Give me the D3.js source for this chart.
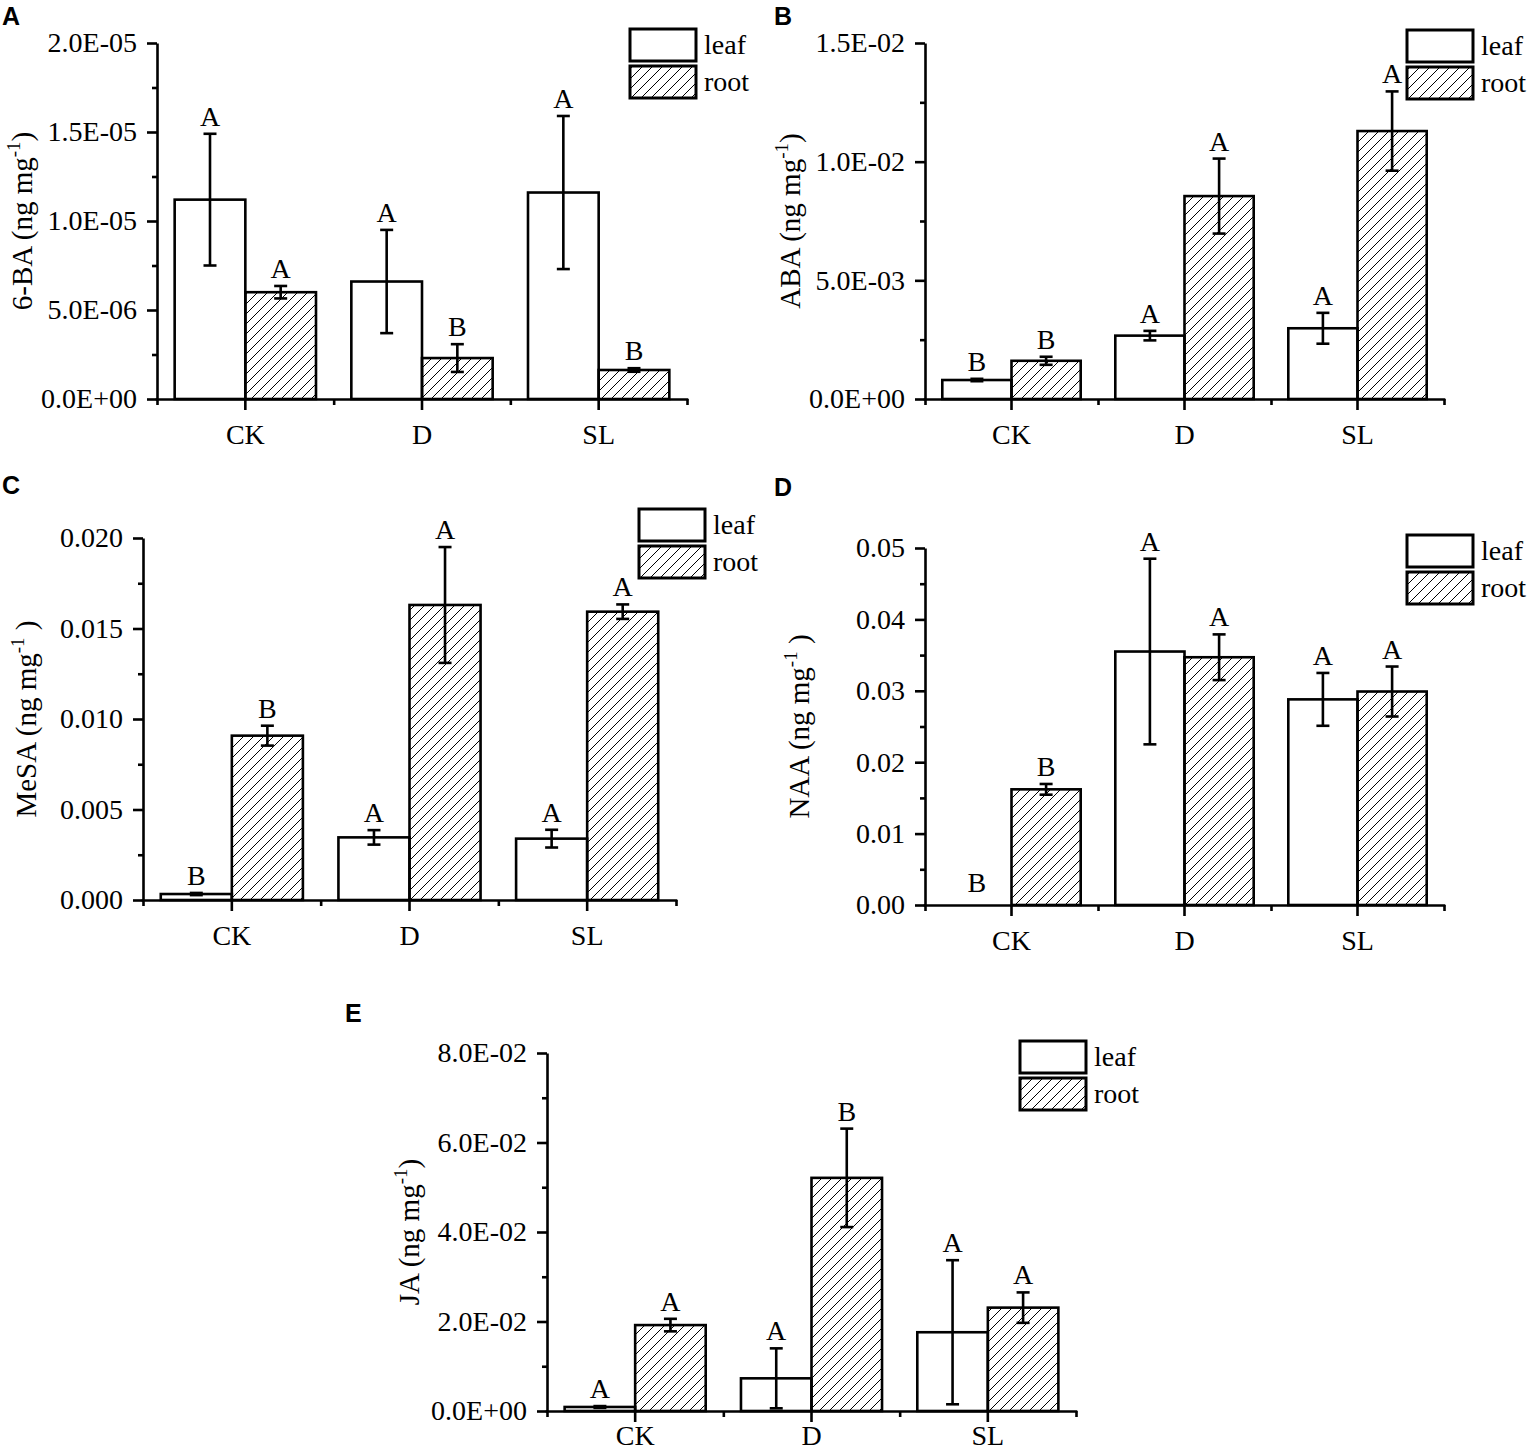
<!DOCTYPE html>
<html>
<head>
<meta charset="utf-8">
<script src="https://cdn.jsdelivr.net/npm/d3@7"></script>
<style>
  body { margin: 0; background: #fff; }
  svg { display: block; }
  text { font-family: "Liberation Serif", "Times New Roman", serif; fill: #000; }
  .panel-tag { font-family: "Liberation Sans", Arial, sans-serif; font-weight: bold; }
</style>
</head>
<body>
<div id="chart"></div>
<script>
// categories and series
const groups = ["CK", "D", "SL"];
const series = ["leaf", "root"];

// 6-BA
const baLeaf = [1.12e-5, 0.66e-5, 1.16e-5];
const baLeafSd = [0.37e-5, 0.29e-5, 0.43e-5];
const baRoot = [0.60e-5, 0.23e-5, 0.163e-5];
const baRootSd = [0.035e-5, 0.078e-5, 0.01e-5];
const baLeafSig = ["A", "A", "A"];
const baRootSig = ["A", "B", "B"];

// ABA
const abaLeaf = [0.0008, 0.00267, 0.00298];
const abaLeafSd = [0.00005, 0.0002, 0.00065];
const abaRoot = [0.00161, 0.00855, 0.01129];
const abaRootSd = [0.00017, 0.00158, 0.00167];
const abaLeafSig = ["B", "A", "A"];
const abaRootSig = ["B", "A", "A"];

// MeSA
const mesaLeaf = [0.00033, 0.00346, 0.00339];
const mesaLeafSd = [0.00006, 0.0004, 0.00049];
const mesaRoot = [0.00908, 0.0163, 0.01593];
const mesaRootSd = [0.00055, 0.0032, 0.0004];
const mesaLeafSig = ["B", "A", "A"];
const mesaRootSig = ["B", "A", "A"];

// NAA
const naaLeaf = [0, 0.0355, 0.0288];
const naaLeafSd = [0, 0.013, 0.0037];
const naaRoot = [0.0162, 0.0347, 0.0299];
const naaRootSd = [0.00075, 0.0032, 0.0035];
const naaLeafSig = ["B", "A", "A"];
const naaRootSig = ["B", "A", "A"];

// JA
const jaLeaf = [0.0009, 0.0073, 0.0176];
const jaLeafSd = [0.0002, 0.0067, 0.0161];
const jaRoot = [0.0192, 0.0521, 0.0231];
const jaRootSd = [0.0014, 0.011, 0.0034];
const jaLeafSig = ["A", "A", "A"];
const jaRootSig = ["A", "B", "A"];

// y tick values
const baTicks = [0, 5e-6, 1e-5, 1.5e-5, 2e-5];
const abaTicks = [0, 0.005, 0.01, 0.015];
const mesaTicks = [0, 0.005, 0.01, 0.015, 0.02];
const naaTicks = [0, 0.01, 0.02, 0.03, 0.04, 0.05];
const jaTicks = [0, 0.02, 0.04, 0.06, 0.08];

// "2.0E-05" style labels
function sciFormat(v) {
  if (v === 0) return "0.0E+00";
  let e = Math.floor(Math.log10(Math.abs(v)) + 1e-9);
  let m = v / Math.pow(10, e);
  let sign = e < 0 ? "-" : "+";
  return m.toFixed(1) + "E" + sign + String(Math.abs(e)).padStart(2, "0");
}

const W = 1527, H = 1452;
const svg = d3.select("#chart").append("svg")
  .attr("width", W)
  .attr("height", H);

const defs = svg.append("defs");
const hatch = defs.append("pattern")
  .attr("id", "hatch")
  .attr("patternUnits", "userSpaceOnUse")
  .attr("width", 10)
  .attr("height", 10);
hatch.append("path")
  .attr("d", "M-2.5,2.5 L2.5,-2.5 M0,10 L10,0 M7.5,12.5 L12.5,7.5")
  .attr("stroke", "#000")
  .attr("stroke-width", 1);

const fillFor = { leaf: "#fff", root: "url(#hatch)" };

const panels = [
  { tag: "A", tagX: 2, tagY: 25, name: "6-BA", sp: "",
    leaf: baLeaf, leafSd: baLeafSd, root: baRoot, rootSd: baRootSd, leafSig: baLeafSig, rootSig: baRootSig,
    ticks: baTicks, fmt: sciFormat, x0: 157, x1: 687, yTop: 43, yZero: 399, labelX: 22, legX: 630, legY: 29 },
  { tag: "B", tagX: 774, tagY: 25, name: "ABA", sp: "",
    leaf: abaLeaf, leafSd: abaLeafSd, root: abaRoot, rootSd: abaRootSd, leafSig: abaLeafSig, rootSig: abaRootSig,
    ticks: abaTicks, fmt: sciFormat, x0: 925, x1: 1444, yTop: 43, yZero: 399, labelX: 790, legX: 1407, legY: 30 },
  { tag: "C", tagX: 2, tagY: 494, name: "MeSA", sp: " ",
    leaf: mesaLeaf, leafSd: mesaLeafSd, root: mesaRoot, rootSd: mesaRootSd, leafSig: mesaLeafSig, rootSig: mesaRootSig,
    ticks: mesaTicks, fmt: d3.format(".3f"), x0: 143, x1: 676, yTop: 538, yZero: 900, labelX: 26, legX: 639, legY: 509 },
  { tag: "D", tagX: 774, tagY: 496, name: "NAA", sp: " ",
    leaf: naaLeaf, leafSd: naaLeafSd, root: naaRoot, rootSd: naaRootSd, leafSig: naaLeafSig, rootSig: naaRootSig,
    ticks: naaTicks, fmt: d3.format(".2f"), x0: 925, x1: 1444, yTop: 548, yZero: 905, labelX: 799, legX: 1407, legY: 535 },
  { tag: "E", tagX: 345, tagY: 1022, name: "JA", sp: "",
    leaf: jaLeaf, leafSd: jaLeafSd, root: jaRoot, rootSd: jaRootSd, leafSig: jaLeafSig, rootSig: jaRootSig,
    ticks: jaTicks, fmt: sciFormat, x0: 547, x1: 1076, yTop: 1053, yZero: 1411, labelX: 409, legX: 1020, legY: 1041 }
];

panels.forEach(drawPanel);

function drawPanel(p) {
  const g = svg.append("g");
  const yMax = p.ticks[p.ticks.length - 1];
  const step = p.ticks[1] - p.ticks[0];

  const x = d3.scaleBand().domain(groups).range([p.x0, p.x1]).paddingInner(0).paddingOuter(0);
  const bw = x.bandwidth();
  const xs = d3.scaleBand().domain(series).range([bw * 0.1, bw * 0.9]);
  const y = d3.scaleLinear().domain([0, yMax]).range([p.yZero, p.yTop]);

  // panel tag
  svg.append("text")
    .attr("class", "panel-tag")
    .attr("x", p.tagX)
    .attr("y", p.tagY)
    .style("font-size", "25px")
    .text(p.tag);

  // rows of data
  const rows = [];
  groups.forEach(function (grp, i) {
    rows.push({ grp: grp, s: "leaf", v: p.leaf[i], sd: p.leafSd[i], sig: p.leafSig[i] });
    rows.push({ grp: grp, s: "root", v: p.root[i], sd: p.rootSd[i], sig: p.rootSig[i] });
  });

  // bars
  g.selectAll(".bar")
    .data(rows)
    .enter()
    .append("rect")
    .attr("class", "bar")
    .attr("x", d => x(d.grp) + xs(d.s))
    .attr("width", xs.bandwidth())
    .attr("y", d => y(d.v))
    .attr("height", d => y(0) - y(d.v))
    .attr("fill", d => fillFor[d.s])
    .attr("stroke", "#000")
    .attr("stroke-width", 2.6);

  // error bars
  const eb = g.selectAll(".err")
    .data(rows.filter(d => d.sd > 0))
    .enter()
    .append("g")
    .attr("class", "err")
    .attr("transform", d => "translate(" + (x(d.grp) + xs(d.s) + xs.bandwidth() / 2) + ",0)");
  eb.append("line")
    .attr("y1", d => y(d.v + d.sd))
    .attr("y2", d => y(Math.max(0, d.v - d.sd)))
    .attr("stroke", "#000").attr("stroke-width", 2.6);
  eb.append("line")
    .attr("x1", -6.5).attr("x2", 6.5)
    .attr("y1", d => y(d.v + d.sd)).attr("y2", d => y(d.v + d.sd))
    .attr("stroke", "#000").attr("stroke-width", 2.6);
  eb.append("line")
    .attr("x1", -6.5).attr("x2", 6.5)
    .attr("y1", d => y(Math.max(0, d.v - d.sd))).attr("y2", d => y(Math.max(0, d.v - d.sd)))
    .attr("stroke", "#000").attr("stroke-width", 2.6);

  // significance letters
  g.selectAll(".sig")
    .data(rows)
    .enter()
    .append("text")
    .attr("class", "sig")
    .attr("x", d => x(d.grp) + xs(d.s) + xs.bandwidth() / 2)
    .attr("y", d => d.v + d.sd > 0 ? y(d.v + d.sd) - 8 : y(0) - 13)
    .attr("text-anchor", "middle")
    .style("font-size", "28px")
    .text(d => d.sig);

  // y axis
  const minorY = d3.range(step / 2, yMax, step);
  g.append("g")
    .attr("transform", "translate(" + p.x0 + ",0)")
    .call(d3.axisLeft(y).tickValues(minorY).tickSize(5).tickFormat(""))
    .call(a => a.select(".domain").remove())
    .selectAll("line").attr("stroke-width", 2.6);

  const yAxis = g.append("g")
    .attr("transform", "translate(" + p.x0 + ",0)")
    .call(d3.axisLeft(y).tickValues(p.ticks).tickSize(10).tickSizeOuter(0).tickPadding(10).tickFormat(p.fmt));
  yAxis.select(".domain").attr("stroke-width", 2.6);
  yAxis.selectAll("line").attr("stroke-width", 2.6);
  yAxis.selectAll("text")
    .style("font-size", "28px")
    .style("font-family", "'Liberation Serif', 'Times New Roman', serif");

  // x axis
  const xb = d3.scaleLinear().domain([0, groups.length]).range([p.x0, p.x1]);
  g.append("g")
    .attr("transform", "translate(0," + p.yZero + ")")
    .call(d3.axisBottom(xb).tickValues(d3.range(0, groups.length + 1)).tickSize(6).tickFormat(""))
    .call(a => a.select(".domain").remove())
    .selectAll("line").attr("stroke-width", 2.6);

  // keep the bottom row of labels inside the page
  const pad = Math.min(14, H - 7 - p.yZero - 31);
  const xAxis = g.append("g")
    .attr("transform", "translate(0," + p.yZero + ")")
    .call(d3.axisBottom(x).tickSize(11).tickSizeOuter(0).tickPadding(pad));
  xAxis.select(".domain")
    .attr("d", "M" + (p.x0 - 1.3) + ",0.5H" + (p.x1 + 1.3))
    .attr("stroke-width", 2.6);
  xAxis.selectAll("line").attr("stroke-width", 2.6);
  xAxis.selectAll("text")
    .style("font-size", "28px")
    .style("font-family", "'Liberation Serif', 'Times New Roman', serif");

  // y axis title
  const cy = (p.yTop + p.yZero) / 2;
  const title = svg.append("text")
    .attr("transform", "translate(" + p.labelX + "," + cy + ") rotate(-90)")
    .attr("text-anchor", "middle")
    .attr("dy", "0.35em")
    .style("font-size", "29px");
  title.append("tspan").text(p.name + " (ng mg");
  title.append("tspan").attr("dy", -12).style("font-size", "19px").text("-1");
  title.append("tspan").attr("dy", 12).text(p.sp + ")");

  // legend
  const leg = svg.append("g").attr("transform", "translate(" + p.legX + "," + p.legY + ")");
  series.forEach(function (s, i) {
    leg.append("rect")
      .attr("x", 0)
      .attr("y", i * 37)
      .attr("width", 66)
      .attr("height", 32)
      .attr("fill", fillFor[s])
      .attr("stroke", "#000")
      .attr("stroke-width", 3);
    leg.append("text")
      .attr("x", 74)
      .attr("y", i * 37 + 25)
      .style("font-size", "28px")
      .text(s);
  });
}
</script>
</body>
</html>
